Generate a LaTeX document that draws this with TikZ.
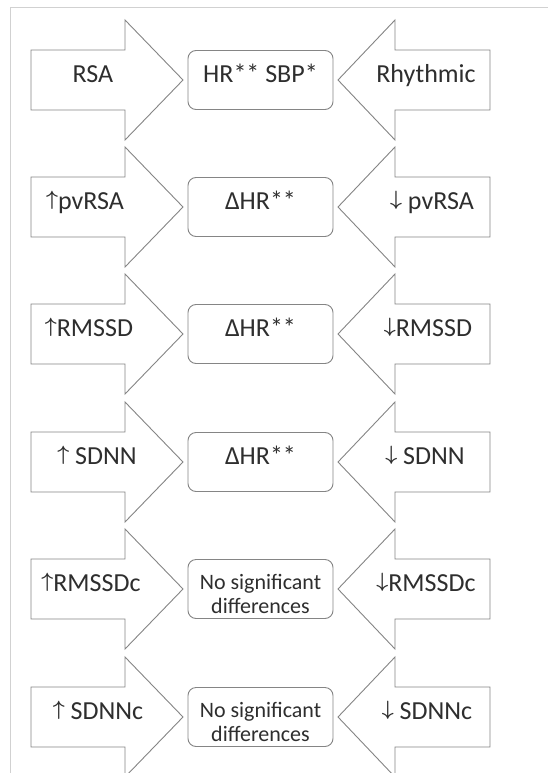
\documentclass[tikz,border=0pt]{standalone}
\usepackage{fontspec}
\setmainfont{Carlito}
\usepackage{amsmath}

\newcommand{\up}{\raisebox{4.3pt}{\fontsize{22}{22}\selectfont$\boldsymbol{\uparrow}$}}
\newcommand{\down}{\raisebox{4.3pt}{\fontsize{22}{22}\selectfont$\boldsymbol{\downarrow}$}}

\tikzset{
  shp/.style={draw=black!48, line width=0.9pt, fill=white, line join=miter},
  resbox/.style={shp, rounded corners=8pt, minimum width=145pt, minimum height=59pt, inner sep=0pt},
  lab/.style={text=black!82, font=\fontsize{26}{30}\selectfont, inner sep=0pt},
  side/.style={lab, anchor=base, yshift=-2.5pt},
  mid/.style={lab, anchor=base, yshift=-2.5pt},
  smallmid/.style={lab, font=\fontsize{22}{24}\selectfont, align=center, yshift=-4.5pt},
}

\begin{document}
\begin{tikzpicture}[x=1pt,y=-1pt]

  \useasboundingbox (0,0) rectangle (548,773);
  \draw[black!18, line width=0.8pt] (548,7.5) -- (10,7.5) -- (10,773);

  \foreach \n/\y/\lx/\lt/\ms/\mt/\rx/\rt in {
      1/80/93/{RSA}/mid/{HR** SBP*}/426/{Rhythmic},
      2/207/85/{\up pvRSA}/mid/{ΔHR**}/432/{\down\ pvRSA},
      3/334/89/{\up RMSSD}/mid/{ΔHR**}/428/{\down RMSSD},
      4/462/97/{\up\ SDNN}/mid/{ΔHR**}/425/{\down\ SDNN},
      5/589/91/{\up RMSSDc}/smallmid/{No significant\\differences}/426/{\down RMSSDc},
      6/717/98/{\up\ SDNNc}/smallmid/{No significant\\differences}/427/{\down\ SDNNc}}
  {
    \draw[shp] (31,\y-30) -- (125,\y-30) -- (125,\y-60) -- (183,\y)
      -- (125,\y+60) -- (125,\y+30) -- (31,\y+30) -- cycle;
    \draw[shp] (490,\y-30) -- (395,\y-30) -- (395,\y-60) -- (338,\y)
      -- (395,\y+60) -- (395,\y+30) -- (490,\y+30) -- cycle;
    \node[resbox] (box\n) at (260.5,\y) {};

    \node[side] (left\n) at (\lx,\y) {\lt};
    \node[\ms] (res\n) at (260.5,\y) {\mt};
    \node[side] (right\n) at (\rx,\y) {\rt};
  }

\end{tikzpicture}
\end{document}
